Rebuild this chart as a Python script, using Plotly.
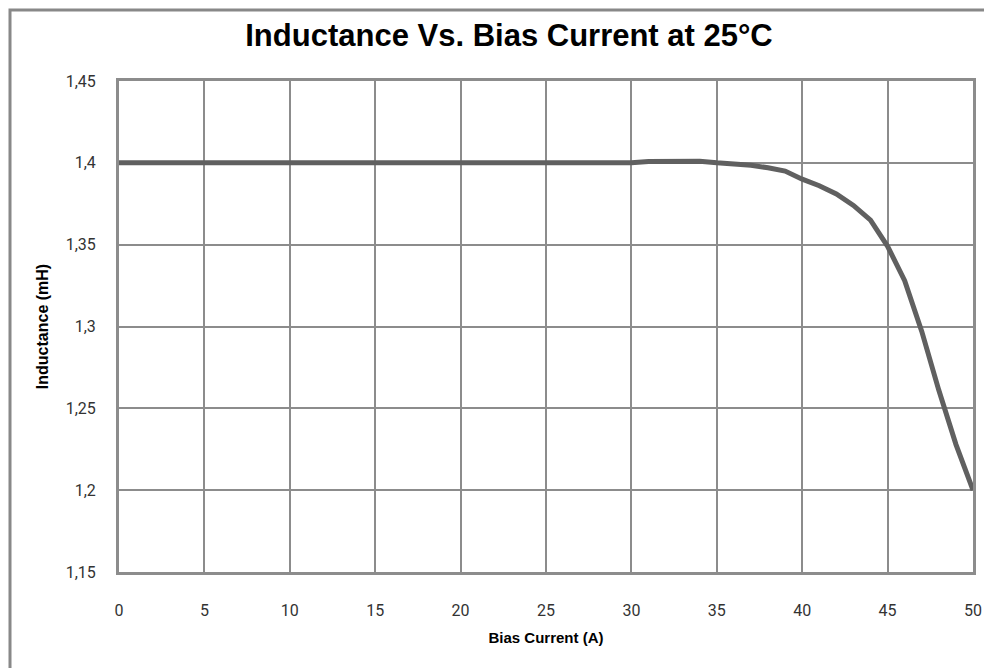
import plotly.graph_objects as go

bias_current = [0, 5, 10, 15, 20, 25, 30, 31, 32, 33, 34, 35, 36, 37, 38, 39, 40,
                41, 42, 43, 44, 45, 46, 47, 48, 49, 50]
inductance = [1.4, 1.4, 1.4, 1.4, 1.4, 1.4, 1.4, 1.4008, 1.401, 1.401, 1.401, 1.4,
              1.3995, 1.3985, 1.397, 1.395, 1.39, 1.386, 1.381, 1.374, 1.365, 1.349,
              1.328, 1.297, 1.261, 1.228, 1.2]
x_ticks = [0, 5, 10, 15, 20, 25, 30, 35, 40, 45, 50]
y_ticks = [1.15, 1.2, 1.25, 1.3, 1.35, 1.4, 1.45]
y_labels = ["1,15", "1,2", "1,25", "1,3", "1,35", "1,4", "1,45"]

OFF = 7
W, H = 992 - OFF, 668 - OFF
L, R, T, B = 118 - OFF, 992 - 972, 80 - OFF, 668 - 571
pw, ph = W - L - R, H - T - B

fig = go.Figure()
fig.add_trace(go.Scatter(x=bias_current, y=inductance, mode="lines",
                         line=dict(color="#606060", width=5),
                         showlegend=False, hoverinfo="x+y"))

grid = "#8c8c8c"
fig.update_layout(
    width=W, height=H,
    margin=dict(l=L, r=R, t=T, b=B),
    paper_bgcolor="white", plot_bgcolor="white",
    title=dict(text="<b>Inductance Vs. Bias Current at 25°C</b>",
               x=(508 - 118) / pw, xref="paper", xanchor="center",
               y=1 - (34 - OFF) / H, yanchor="middle",
               font=dict(family="Liberation Sans Narrow, Arial Narrow, sans-serif", size=31, color="black")),
    xaxis=dict(range=[0, 50], tickvals=x_ticks, showgrid=True, gridcolor=grid, gridwidth=2,
               zeroline=False, showline=True, linecolor=grid, linewidth=3, mirror=True,
               ticks="", ticklabelstandoff=22,
               tickfont=dict(family="Roboto, sans-serif", size=16, color="#333"),
               title=dict(text="<b>Bias Current (A)</b>", standoff=14,
                          font=dict(family="Liberation Sans, Arial, sans-serif", size=15, color="black"))),
    yaxis=dict(range=[1.15, 1.45], tickvals=y_ticks, ticktext=y_labels, showgrid=True,
               gridcolor=grid, gridwidth=2, zeroline=False, showline=True, linecolor=grid,
               linewidth=3, mirror=True, ticks="", ticklabelstandoff=17,
               tickfont=dict(family="Roboto, sans-serif", size=16, color="#333"),
               title=dict(text="<b>Inductance (mH)</b>", standoff=14,
                          font=dict(family="Liberation Sans, Arial, sans-serif", size=16, color="black"))),
)
fig.add_shape(type="rect", xref="paper", yref="paper",
              x0=(9 - 118) / pw, x1=(992 + 20 - 118) / pw,
              y0=(571 - (668 + 20)) / ph, y1=(571 - 9) / ph,
              line=dict(color="#888888", width=3), fillcolor="rgba(0,0,0,0)", layer="below")
fig.write_html("out.html")
